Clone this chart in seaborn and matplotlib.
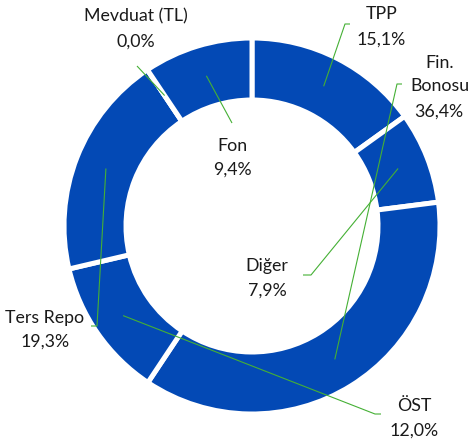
import numpy as np
import matplotlib
matplotlib.use("Agg")
import matplotlib.pyplot as plt
import seaborn as sns

# ---- data ----
categories = ["TPP", "Diğer", "Fin. Bonosu", "ÖST", "Ters Repo", "Mevduat (TL)", "Fon"]
values = [15.1, 7.9, 36.4, 12.0, 19.3, 0.0, 9.4]
value_labels = ["15,1%", "7,9%", "36,4%", "12,0%", "19,3%", "0,0%", "9,4%"]
name_lines = [["TPP"], ["Diğer"], ["Fin.", "Bonosu"], ["ÖST"], ["Ters Repo"], ["Mevduat (TL)"], ["Fon"]]

sns.set_theme(style="white")
plt.rcParams["font.family"] = ["Lato", "DejaVu Sans"]

W, H = 470, 444
fig = plt.figure(figsize=(W / 100, H / 100), dpi=100)
ax = fig.add_axes([0, 0, 1, 1])
ax.set_xlim(0, W)
ax.set_ylim(0, H)
ax.set_aspect("equal")
ax.axis("off")

blue = "#0349B5"
green = "#45B035"
txt = "#1a1a1a"

cx, cy = 252, H - 226
R_out, R_in = 188, 126
ax.pie(values, colors=[blue] * len(values), startangle=90, counterclock=False,
       center=(cx, cy), radius=R_out, normalize=True,
       wedgeprops=dict(width=R_out - R_in, edgecolor="white", linewidth=3.6))
ax.set_xlim(0, W)
ax.set_ylim(0, H)

# label layout (pixel positions, y from top): text line centers and leader elbows
label_pos = {
    "TPP": [(382, 13), (381, 38)],
    "Diğer": [(267, 265), (267, 289)],
    "Fin. Bonosu": [(440, 62), (440, 85), (439, 110)],
    "ÖST": [(414, 405), (414, 429)],
    "Ters Repo": [(45, 317), (45, 340)],
    "Mevduat (TL)": [(136, 15), (136, 40)],
    "Fon": [(232, 145), (232, 168)],
}
leader_start = {
    "TPP": [(350, 24), (345, 24)],
    "Diğer": [(303, 275), (311, 275)],
    "Fin. Bonosu": [(402, 84), (397, 84)],
    "ÖST": [(381, 414), (375, 414)],
    "Ters Repo": [(91, 326), (97, 326)],
    "Mevduat (TL)": [(137, 66)],
    "Fon": [(232, 123)],
}

fs = 12.8
total = sum(values)
cum = 0.0
r_mid = (R_out + R_in) / 2
for cat, v, vl, nl in zip(categories, values, value_labels, name_lines):
    theta = np.deg2rad((cum + v / 2) / total * 360.0)
    cum += v
    ax_x = cx + r_mid * np.sin(theta)
    ax_y = cy + r_mid * np.cos(theta)
    pts = [(px, H - py) for px, py in leader_start[cat]] + [(ax_x, ax_y)]
    xs, ys = zip(*pts)
    ax.plot(xs, ys, color=green, lw=0.8, solid_capstyle="butt", zorder=5)
    lines = nl + [vl]
    for (px, py), s in zip(label_pos[cat], lines):
        ax.text(px, H - py - 6.3, s, ha="center", va="baseline", fontsize=fs, color=txt, zorder=6)

fig.savefig("out.png", dpi=100, facecolor="white")
